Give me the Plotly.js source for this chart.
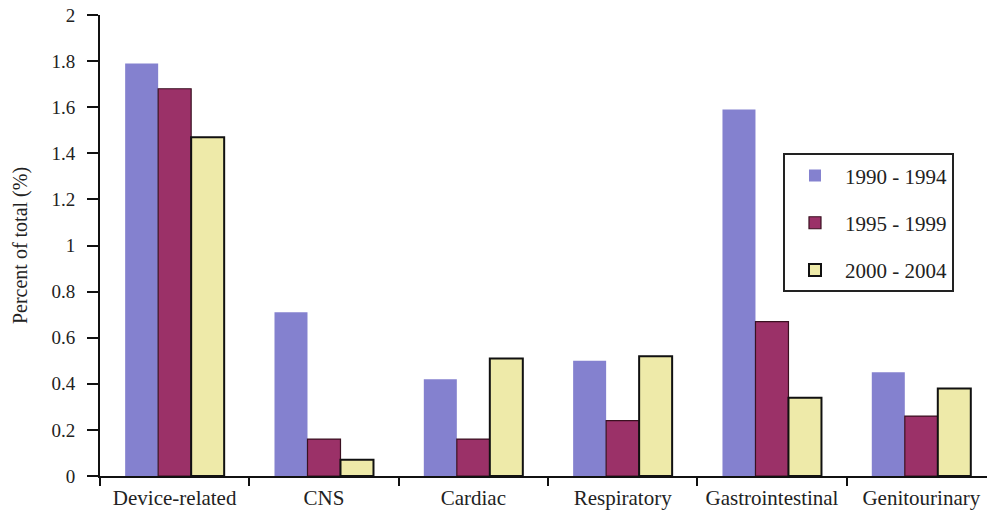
<!DOCTYPE html>
<html>
<head>
<meta charset="utf-8">
<script src="https://cdn.plot.ly/plotly-3.0.1.min.js"></script>
<style>html,body{margin:0;padding:0;background:#fff;}#chart{width:987px;height:515px;}</style>
</head>
<body>
<div id="chart"></div>
<script>
const categories = ["Device-related", "CNS", "Cardiac", "Respiratory", "Gastrointestinal", "Genitourinary"];
const seriesNames = ["1990 - 1994", "1995 - 1999", "2000 - 2004"];
const values1990 = [1.79, 0.71, 0.42, 0.50, 1.59, 0.45];
const values1995 = [1.68, 0.16, 0.16, 0.24, 0.67, 0.26];
const values2000 = [1.47, 0.07, 0.51, 0.52, 0.34, 0.38];
const yTicks = [0, 0.2, 0.4, 0.6, 0.8, 1, 1.2, 1.4, 1.6, 1.8, 2];

const fontFam = "Liberation Serif, Times New Roman, serif";
const colors = ["#8481cf", "#9b3168", "#eeeaa9"];
const lineColors = ["#8481cf", "#3a1020", "#111111"];
const lineWidths = [0, 1.2, 2];
const allVals = [values1990, values1995, values2000];

const traces = allVals.map((v, i) => ({
  type: "bar",
  name: seriesNames[i],
  x: categories,
  y: v,
  legendgroup: "g" + i,
  marker: {color: colors[i], line: {color: lineColors[i], width: lineWidths[i]}},
  hoverinfo: "x+y+name"
}));

const layout = {
  width: 987, height: 515,
  margin: {l: 100, r: 0, t: 15, b: 39},
  paper_bgcolor: "#ffffff", plot_bgcolor: "#ffffff",
  font: {family: fontFam, color: "#222222", size: 18},
  barmode: "group",
  bargap: 0.337,
  bargroupgap: 0,
  xaxis: {
    type: "category",
    range: [-0.5, 5.44],
    showline: true, linecolor: "#111111", linewidth: 2,
    ticks: "outside", ticklen: 8, tickwidth: 2, tickcolor: "#111111",
    tickson: "boundaries",
    showgrid: false, zeroline: false,
    ticklabelstandoff: 2,
    tickfont: {family: fontFam, size: 21, color: "#222222"}
  },
  yaxis: {
    range: [0, 2],
    tickvals: yTicks,
    ticktext: yTicks.map(String),
    showline: true, linecolor: "#111111", linewidth: 2,
    ticks: "outside", ticklen: 11, tickwidth: 2, tickcolor: "#111111",
    showgrid: false, zeroline: false,
    ticklabelstandoff: 8,
    tickfont: {family: fontFam, size: 19, color: "#222222"},
    title: {text: "Percent of total (%)", font: {family: fontFam, size: 20, color: "#222222"}, standoff: 18}
  },
  legend: {
    x: 0.77, y: 0.70, xanchor: "left", yanchor: "top",
    bordercolor: "#222222", borderwidth: 2, bgcolor: "#ffffff",
    font: {family: fontFam, size: 21, color: "#222222"},
    traceorder: "grouped", tracegroupgap: 17,
    itemwidth: 50
  },
  showlegend: true
};

Plotly.newPlot("chart", traces, layout, {displayModeBar: false, staticPlot: true});
</script>
</body>
</html>
